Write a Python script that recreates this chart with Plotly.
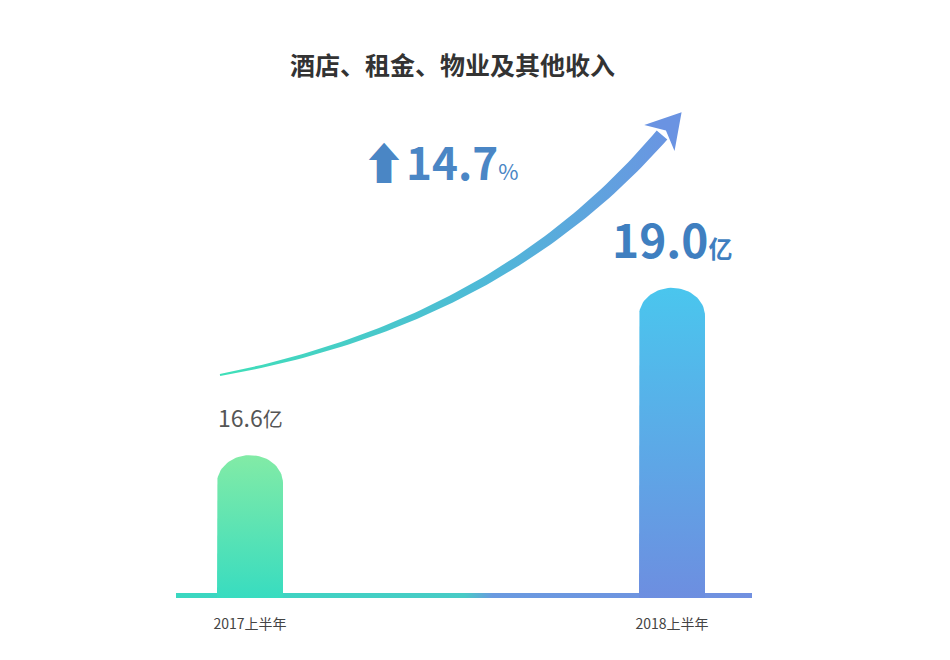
import numpy as np
import plotly.graph_objects as go

periods = ["2017上半年", "2018上半年"]
revenue = [16.6, 19.0]          # 亿
growth = "14.7"

# pixel helpers (plot area: x 31..875, y 55..590 in the page)
base = 14.55
ppu_y = 69.7
ppu_x = 422.0
def px2x(px): return (px - 250) / ppu_x
def py2y(py): return base + (595 - py) / ppu_y

fig = go.Figure()

# baseline
bx0, bx1 = px2x(176), px2x(752)
bh = 5 / ppu_y
fig.add_trace(go.Scatter(
    x=[bx0, bx1, bx1, bx0, bx0], y=[base - bh, base - bh, base + bh, base + bh, base - bh],
    mode="lines", line=dict(width=0), fill="toself",
    fillgradient=dict(type="horizontal", colorscale=[[0, "#3ad8c0"], [0.5, "#48cbc6"], [0.55, "#6a9ae0"], [1, "#7190e0"]]),
    hoverinfo="skip", showlegend=False))

# bars with rounded tops
hw = 33 / ppu_x
ry = 28 / ppu_y
grads = [[[0, "#38dcc0"], [1, "#82eba6"]], [[0, "#6d8ee0"], [1, "#4ac6ee"]]]
for i, v in enumerate(revenue):
    th = np.linspace(0, np.pi, 40)
    xs = [i - hw] + list(i - hw * np.cos(th)) + [i + hw, i - hw]
    ys = [base] + list(v - ry + ry * np.sin(th)) + [base, base]
    fig.add_trace(go.Scatter(
        x=xs, y=ys, mode="lines", line=dict(width=0), fill="toself",
        fillgradient=dict(type="vertical", colorscale=grads[i]),
        hoverinfo="skip", showlegend=False))

# growth arrow
P0, P1, P2 = np.array([220, 372.]), np.array([500, 320.]), np.array([662, 132.])
t = np.linspace(0, 1, 80)
pts = ((1 - t) ** 2)[:, None] * P0 + (2 * (1 - t) * t)[:, None] * P1 + (t ** 2)[:, None] * P2
d = 2 * (1 - t)[:, None] * (P1 - P0) + 2 * t[:, None] * (P2 - P1)
d /= np.linalg.norm(d, axis=1)[:, None]
nrm = np.stack([-d[:, 1], d[:, 0]], axis=1)
w = 1 + 6 * t
upper = pts + nrm * w[:, None]
lower = pts - nrm * w[:, None]
poly = np.vstack([upper, lower[::-1], upper[:1]])
fig.add_trace(go.Scatter(
    x=px2x(poly[:, 0]), y=py2y(poly[:, 1]), mode="lines", line=dict(width=0), fill="toself",
    fillgradient=dict(type="horizontal", colorscale=[[0, "#3fe0b8"], [0.6, "#4fb8d8"], [1, "#6a95e2"]]),
    hoverinfo="skip", showlegend=False))
dn, nn = d[-1], nrm[-1]
tip = P2 + dn * 30
head = np.array([tip, P2 + nn * 20 - dn * 4, P2 + dn * 6, P2 - nn * 20 - dn * 4, tip])
fig.add_trace(go.Scatter(
    x=px2x(head[:, 0]), y=py2y(head[:, 1]), mode="lines", line=dict(width=0), fill="toself",
    fillcolor="#6a93e2", hoverinfo="skip", showlegend=False))

font = "Noto Sans CJK SC"
fig.add_annotation(x=0, y=revenue[0] + 0.55, text="16.6<span style='font-size:20px'>亿</span>",
                   showarrow=False, font=dict(family=font, size=23, color="#555555"))
fig.add_annotation(x=1, y=revenue[1] + 0.72,
                   text="<b>19.0</b><span style='font-size:24px'><b>亿</b></span>",
                   showarrow=False, font=dict(family=font, size=46, color="#3f7fc0"))
fig.add_annotation(x=px2x(440), y=py2y(158),
                   text="<b>⬆" + growth + "</b><span style='font-size:22px'>%</span>",
                   showarrow=False, font=dict(family=font, size=44, color="#4a86c5"))

fig.update_layout(
    width=950, height=660,
    margin=dict(l=31, r=75, t=55, b=70),
    paper_bgcolor="white", plot_bgcolor="white",
    title=dict(text="<b>酒店、租金、物业及其他收入</b>", x=0.468, y=0.925, xanchor="center",
               font=dict(family=font, size=25, color="#333333")),
    xaxis=dict(range=[-0.5, 1.5], tickvals=[0, 1], ticktext=periods, showgrid=False,
               zeroline=False, showline=False, ticks="", ticklabelstandoff=16,
               tickfont=dict(family=font, size=14, color="#444444")),
    yaxis=dict(range=[base, py2y(60)], visible=False),
)

fig.write_html("out.html")
